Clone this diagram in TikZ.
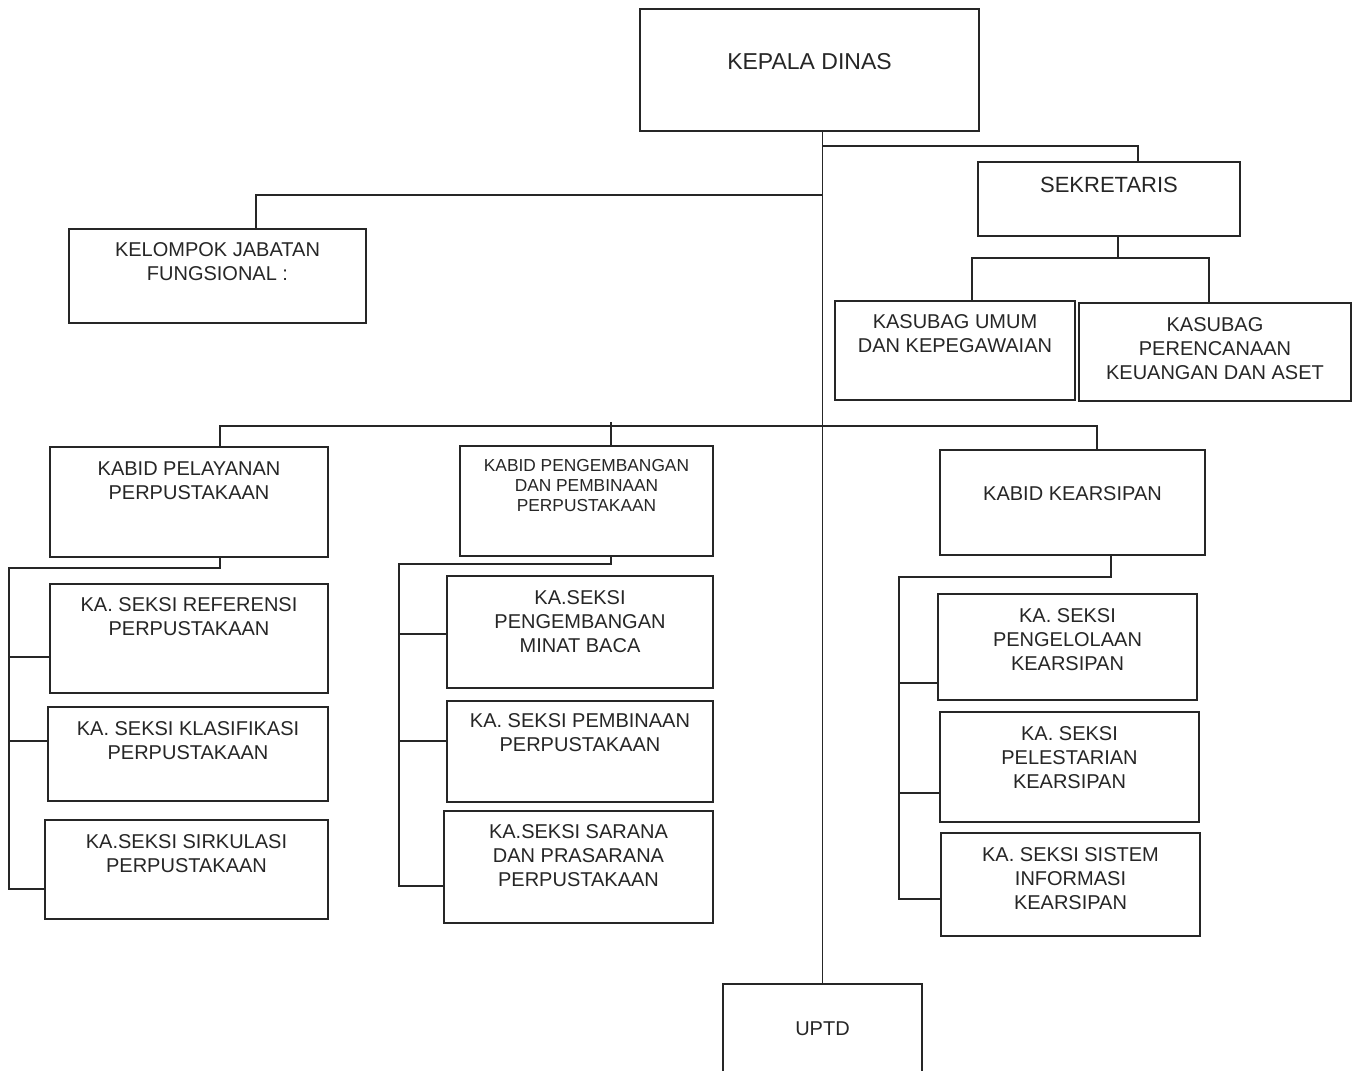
\documentclass[tikz,border=0pt]{standalone}
\usepackage{fontspec}
\setmainfont{Liberation Sans}
\newlength\upx
\setlength\upx{0.75pt}
\newcommand\pb[4]{\parbox[c][#2\upx][t]{#1\upx}{\vspace*{#3\upx}\centering #4}}
\definecolor{ink}{HTML}{262626}
\begin{document}
\begin{tikzpicture}[x=0.75pt,y=-0.75pt,
  box/.style={draw=ink,line width=1.4pt,inner sep=0pt,outer sep=0pt,text=ink,
    font=\fontsize{15}{18}\selectfont},
  conn/.style={draw=ink,line width=1.4pt}]
\useasboundingbox (0,0) rectangle (1354,1071);
\clip (0,0) rectangle (1354,1071);
\fill[white] (0,0) rectangle (1354,1071);

% boxes
\node[box,font=\fontsize{17.25}{20}\selectfont] (kd) at (809.5,70) {\pb{339}{122}{44.8}{KEPALA DINAS}};
\node[box,font=\fontsize{16.5}{20}\selectfont] (sek) at (1109,199) {\pb{262}{74}{15.1}{SEKRETARIS}};
\node[box] (kjf) at (217.5,276) {\pb{297}{94}{13.8}{KELOMPOK JABATAN\\FUNGSIONAL :}};
\node[box] (ku) at (955,350.5) {\pb{240}{99}{13.8}{KASUBAG UMUM\\DAN KEPEGAWAIAN}};
\node[box] (kp) at (1215,352) {\pb{272}{98}{14.8}{KASUBAG\\PERENCANAAN\\KEUANGAN DAN ASET}};

\node[box] (kbp) at (189,502) {\pb{278}{110}{14.8}{KABID PELAYANAN\\PERPUSTAKAAN}};
\node[box,font=\fontsize{13}{15}\selectfont] (kbpg) at (586.5,501) {\pb{253}{110}{13.8}{KABID PENGEMBANGAN\\DAN PEMBINAAN\\PERPUSTAKAAN}};
\node[box] (kbk) at (1072.5,502.5) {\pb{265}{105}{36.8}{KABID KEARSIPAN}};

\node[box] (s1) at (189,638.5) {\pb{278}{109}{13.8}{KA. SEKSI REFERENSI\\PERPUSTAKAAN}};
\node[box] (s2) at (188,754) {\pb{280}{94}{14.8}{KA. SEKSI KLASIFIKASI\\PERPUSTAKAAN}};
\node[box] (s3) at (186.5,869.5) {\pb{283}{99}{14.8}{KA.SEKSI SIRKULASI\\PERPUSTAKAAN}};

\node[box] (s4) at (580,632) {\pb{266}{112}{14.8}{KA.SEKSI\\PENGEMBANGAN\\MINAT BACA}};
\node[box] (s5) at (580,751.5) {\pb{266}{101}{12.8}{KA. SEKSI PEMBINAAN\\PERPUSTAKAAN}};
\node[box] (s6) at (578.5,867) {\pb{269}{112}{13.8}{KA.SEKSI SARANA\\DAN PRASARANA\\PERPUSTAKAAN}};

\node[box] (s7) at (1067.5,647) {\pb{259}{106}{14.8}{KA. SEKSI\\PENGELOLAAN\\KEARSIPAN}};
\node[box] (s8) at (1069.5,767) {\pb{259}{110}{14.8}{KA. SEKSI\\PELESTARIAN\\KEARSIPAN}};
\node[box] (s9) at (1070.5,884.5) {\pb{259}{103}{14.8}{KA. SEKSI SISTEM\\INFORMASI\\KEARSIPAN}};

\node[box] (uptd) at (822.5,1032) {\pb{199}{96}{37.8}{UPTD}};

% spine
\draw[conn] (uptd.north |- kd.south) -- (uptd.north);
\coordinate (j1) at (822.5,146);
\coordinate (j2) at (822.5,195);
\draw[conn] (j1) -| ([xshift=29\upx]sek.north);
\draw[conn] (j2) -| ([xshift=38.5\upx]kjf.north);

% sekretaris branch
\coordinate (sb) at (1118,258);
\draw[conn] ([xshift=9\upx]sek.south) -- (sb);
\draw[conn] ([xshift=17\upx]ku.north) |- (sb) -| ([xshift=-6\upx]kp.north);

% kabid bar
\coordinate (kb) at (1097,426);
\draw[conn] ([xshift=31\upx]kbp.north) |- (kb) -- ([xshift=24.5\upx]kbk.north);
\draw[conn] ([xshift=24.5\upx]kbpg.north) -- ++(0,-24);

% left group
\coordinate (lg) at (9,568);
\draw[conn] ([xshift=31\upx]kbp.south) |- (lg) -- (9,889) -- (s3.west |- 9,889);
\draw[conn] (9,657) -- (s1.west |- 9,657);
\draw[conn] (9,741) -- (s2.west |- 9,741);

% middle group
\coordinate (mg) at (399,564);
\draw[conn] ([xshift=24.5\upx]kbpg.south) |- (mg) -- (399,886) -- (s6.west |- 399,886);
\draw[conn] (399,634) -- (s4.west |- 399,634);
\draw[conn] (399,741) -- (s5.west |- 399,741);

% right group
\coordinate (rg) at (899,577);
\draw[conn] ([xshift=38.5\upx]kbk.south) |- (rg) -- (899,899) -- (s9.west |- 899,899);
\draw[conn] (899,683) -- (s7.west |- 899,683);
\draw[conn] (899,793) -- (s8.west |- 899,793);
\end{tikzpicture}
\end{document}
